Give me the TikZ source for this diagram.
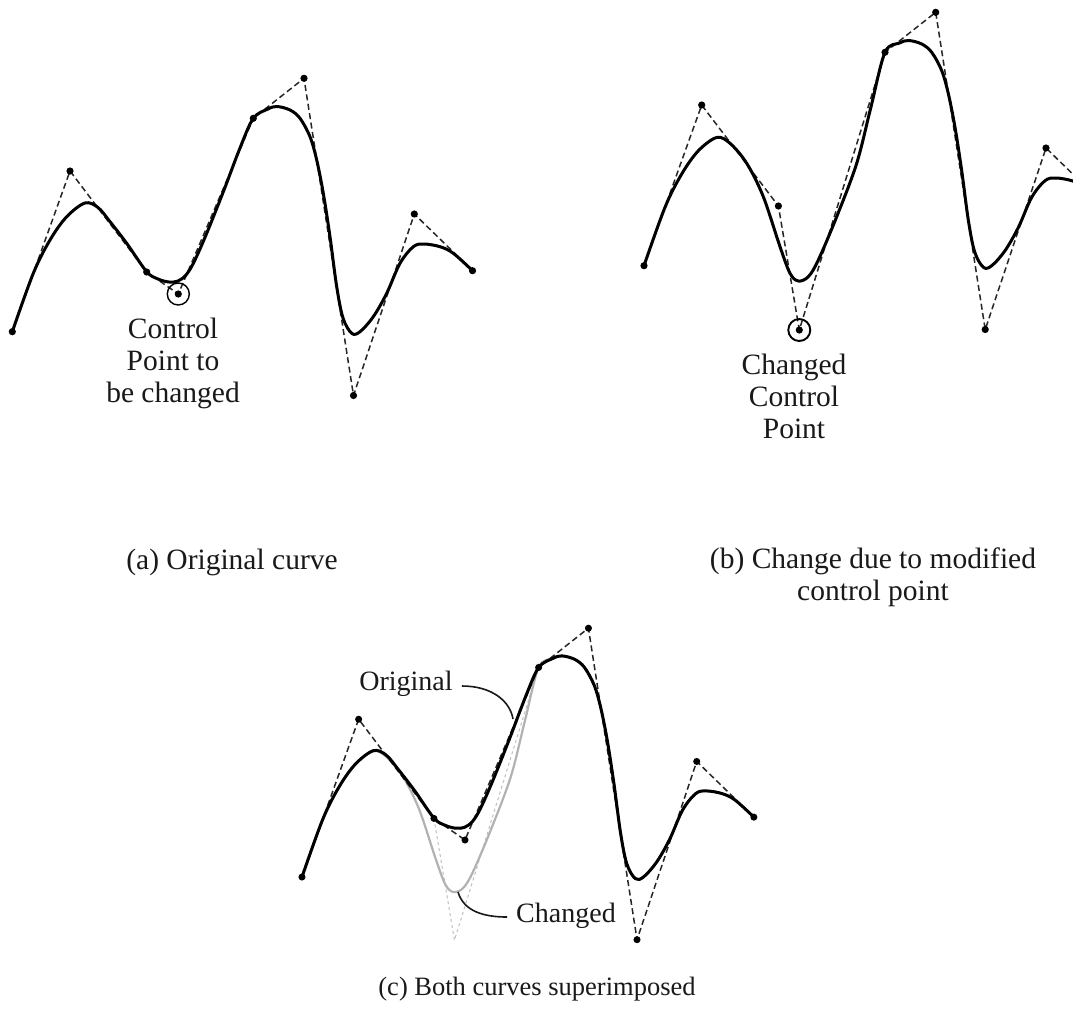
\documentclass[tikz,border=0pt]{standalone}
\usepackage{fontspec}
\setmainfont{Liberation Serif}
\newcommand\origcurve[1]{\draw[#1] plot[smooth,tension=0.55] coordinates {(12.3,331.7) (33.3,273.3) (50,240) (66.7,216.7) (85,203) (98,207.5) (110,221.7) (126.7,243.3) (146.7,271.7) (158,279) (169,282) (178,281) (186,275) (194,262) (206.7,233.3) (224,190) (240,148) (253.3,118.3) (268,109) (277,106.5) (290,110) (300,118.3) (310,136.7) (316.7,160) (323.3,193.3) (330,236.7) (336.7,286.7) (343,318) (351.7,333.3) (360,331.7) (373.3,316.7) (386.7,293.3) (400,263.3) (413.3,246.7) (424,244) (440,246.7) (453.3,253.3) (472.5,270.7)};}
\newcommand\chgcurve[1]{\draw[#1] plot[smooth,tension=0.55] coordinates {(12.3,331.7) (33.3,273.3) (50,240) (66.7,216.7) (85,203.5) (98.3,209.3) (115,229.3) (131.6,262.7) (148.3,312.7) (158.3,339.3) (166.6,347) (176.6,342.7) (186.6,326) (205,282.7) (225,229.3) (239,174) (253.3,118.3) (268,109) (277,106.5) (290,110) (300,118.3) (310,136.7) (316.7,160) (323.3,193.3) (330,236.7) (336.7,286.7) (343,318) (351.7,333.3) (360,331.7) (373.3,316.7) (386.7,293.3) (400,263.3) (413.3,246.7) (424,244) (440,246.7) (453.3,253.3) (472.5,270.7)};}
\newcommand\ctrlpts[1]{%
  \coordinate (#1p0) at (12.3,331.7);
  \coordinate (#1p1) at (70,171);
  \coordinate (#1p2) at (146.7,272);
  \coordinate (#1p3) at (178.3,294);
  \coordinate (#1p4) at (253.3,118.3);
  \coordinate (#1p5) at (304,78.3);
  \coordinate (#1p6) at (353.5,395.5);
  \coordinate (#1p7) at (414.3,214);
  \coordinate (#1p8) at (472.5,270.7);
  \coordinate (#1q) at (167.6,396);}
\begin{document}
\begin{tikzpicture}[x=1pt,y=-1pt,
  curve/.style={line width=3pt,line cap=round,line join=round,black},
  gcurve/.style={line width=2.2pt,black!30,line cap=round,line join=round},
  ctrl/.style={line width=1.5pt,dash pattern=on 6pt off 3.5pt,black!85},
  gctrl/.style={line width=1pt,dash pattern=on 3pt off 3pt,black!25},
  lbl/.style={font=\fontsize{29.5}{32}\selectfont,align=center,inner sep=0pt,text=black!90},
  lblc/.style={font=\fontsize{28}{32}\selectfont,inner sep=0pt,text=black!90},
  lead/.style={line width=1.6pt,black!90}]
\useasboundingbox (0,0) rectangle (1073,1015);
\fill[white] (0,0) rectangle (1073,1015);
\clip (0,0) rectangle (1073,1015);

% ---------- (a) original curve ----------
\begin{scope}
  \ctrlpts{a}
  \draw[ctrl] (ap0)--(ap1)--(ap2)--(ap3)--(ap4)--(ap5)--(ap6)--(ap7)--(ap8);
  \origcurve{curve}
  \foreach \i in {0,...,8}{\fill (ap\i) circle (3.6);}
  \draw[line width=1.4pt] (ap3) circle (11);
\end{scope}
\node[lbl,anchor=north] (labA) at (173,318) {Control\\Point to\\be changed};
\node[lbl,anchor=base] (capA) at (232,569) {(a) Original curve};

% ---------- (b) changed curve ----------
\begin{scope}[shift={(631.7,-66)}]
  \ctrlpts{b}
  \draw[ctrl] (bp0)--(bp1)--(bp2)--(bq)--(bp4)--(bp5)--(bp6)--(bp7)--(bp8);
  \chgcurve{curve}
  \foreach \i in {0,1,2,4,5,6,7,8}{\fill (bp\i) circle (3.6);}
  \fill (bq) circle (3.6);
  \draw[line width=1.9pt] (bq) circle (11);
\end{scope}
\node[lbl,anchor=north] (labB) at (794,354) {Changed\\Control\\Point};
\node[lbl,anchor=north] (capB) at (873,548) {(b) Change due to modified\\control point};

% ---------- (c) superimposed ----------
\begin{scope}[shift={(289.9,551.3)},scale=0.982]
  \ctrlpts{c}
  \draw[gctrl] (cp2)--(cq)--(cp4);
  \chgcurve{gcurve}
  \draw[ctrl] (cp0)--(cp1)--(cp2)--(cp3)--(cp4)--(cp5)--(cp6)--(cp7)--(cp8);
  \origcurve{curve}
  \foreach \i in {0,...,8}{\fill (cp\i) circle (3.6);}
\end{scope}
\node[lblc,anchor=base] (labOrig) at (406,690) {Original};
\node[lblc,anchor=base] (labChg) at (566,922) {Changed};
\coordinate (origTouch) at (513,719);
\coordinate (chgTip) at (458,892);
\draw[lead] ([xshift=9pt,yshift=4pt]labOrig.base east) .. controls +(30,0) and +(-3,-18) .. (origTouch);
\draw[lead] (chgTip) .. controls +(6,20) and +(-22,0) .. ([xshift=-9pt,yshift=5pt]labChg.base west);
\node[font=\fontsize{26.5}{32}\selectfont,inner sep=0pt,text=black!90,anchor=base] (capC) at (537,995) {(c) Both curves superimposed};
\end{tikzpicture}
\end{document}
